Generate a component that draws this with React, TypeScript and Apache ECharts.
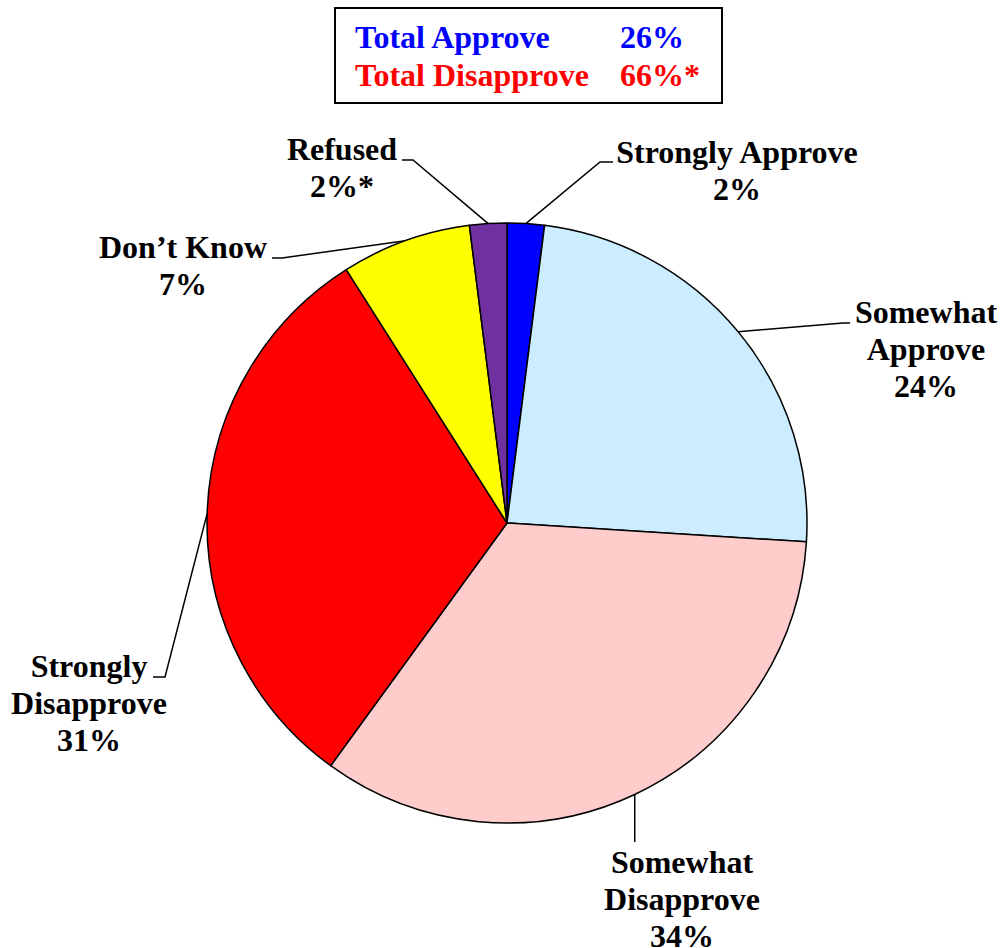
import React, { useEffect, useRef } from 'react';
import * as echarts from 'echarts';

// ---- data ----
const categories = ['Strongly Approve', 'Somewhat Approve', 'Somewhat Disapprove', 'Strongly Disapprove', 'Don’t Know', 'Refused'];
const labelNames = ['Strongly Approve', 'Somewhat\nApprove', 'Somewhat\nDisapprove', 'Strongly\nDisapprove', 'Don’t Know', 'Refused'];
const values = [2, 24, 34, 31, 7, 2];
const valueNotes = ['', '', '', '', '', '*'];
const totalLabels = ['Total Approve', 'Total Disapprove'];
const totalValues = [26, 66];
const totalNotes = ['', '*'];

// ---- styles / layout ----
const sliceColors = ['#0000FF', '#CCECFF', '#FFCCCC', '#FF0000', '#FFFF00', '#7030A0'];
const totalColors = ['#0000FF', '#FF0000'];
const CX = 507;
const CY = 523;
const R = 300;
const FONT = '"Liberation Serif", "Times New Roman", serif';
const labelAnchors: number[][] = [[737, 133], [926, 293], [682, 843], [89, 647], [183, 228], [342, 130]];
const guideTail: (number | null)[][][] = [
  [[600, 162], [613, 162]],
  [[843, 323], [850, 323]],
  [[null, 842]],
  [[165, 677], [153, 677]],
  [[282, 258], [272, 258]],
  [[413, 160], [402, 160]],
];

function midPoint(i: number): number[] {
  const total = values.reduce((a, b) => a + b, 0);
  let before = 0;
  for (let k = 0; k < i; k++) before += values[k];
  const theta = ((before + values[i] / 2) / total) * Math.PI * 2;
  return [CX + R * Math.sin(theta), CY - R * Math.cos(theta)];
}

export default function App() {
  const ref = useRef<HTMLDivElement>(null);
  useEffect(() => {
    document.body.style.margin = '0';
    if (!ref.current) return;
    const chart = echarts.init(ref.current, undefined, { renderer: 'svg' });
    const graphics: any[] = [
      {
        type: 'rect',
        shape: { x: 335, y: 8, width: 387, height: 95 },
        style: { fill: '#FFFFFF', stroke: '#000000', lineWidth: 2 },
        z: 10,
      },
    ];
    totalLabels.forEach((t, i) => {
      graphics.push({
        type: 'text',
        x: 355,
        y: 37 + i * 38,
        z: 11,
        style: { text: t, fill: totalColors[i], font: `bold 32px ${FONT}`, verticalAlign: 'middle', align: 'left' },
      });
      graphics.push({
        type: 'text',
        x: 620,
        y: 37 + i * 38,
        z: 11,
        style: { text: `${totalValues[i]}%${totalNotes[i]}`, fill: totalColors[i], font: `bold 32px ${FONT}`, verticalAlign: 'middle', align: 'left' },
      });
    });
    chart.setOption({
      animation: false,
      backgroundColor: '#FFFFFF',
      graphic: graphics,
      series: [
        {
          type: 'pie',
          center: [CX, CY],
          radius: R,
          startAngle: 90,
          clockwise: true,
          avoidLabelOverlap: false,
          itemStyle: { borderColor: '#000000', borderWidth: 1.5 },
          label: {
            show: true,
            position: 'outside',
            color: '#000000',
            fontFamily: FONT,
            fontWeight: 'bold',
            fontSize: 32,
            lineHeight: 37,
            align: 'center',
            formatter: (p: any) => `${labelNames[p.dataIndex]}\n${p.value}%${valueNotes[p.dataIndex]}`,
          },
          labelLine: { show: true, lineStyle: { color: '#000000', width: 1.5 } },
          labelLayout: (params: any) => {
            const i = params.dataIndex;
            const p0 = midPoint(i);
            const pts: number[][] = [p0];
            guideTail[i].forEach((pt) => {
              pts.push([pt[0] == null ? p0[0] : (pt[0] as number), pt[1] as number]);
            });
            return {
              x: labelAnchors[i][0],
              y: labelAnchors[i][1],
              align: 'center',
              verticalAlign: 'top',
              labelLinePoints: pts,
            };
          },
          data: categories.map((c, i) => ({ name: c, value: values[i], itemStyle: { color: sliceColors[i] } })),
        },
      ],
    });
    return () => chart.dispose();
  }, []);
  return <div ref={ref} style={{ width: 1002, height: 948 }} />;
}
